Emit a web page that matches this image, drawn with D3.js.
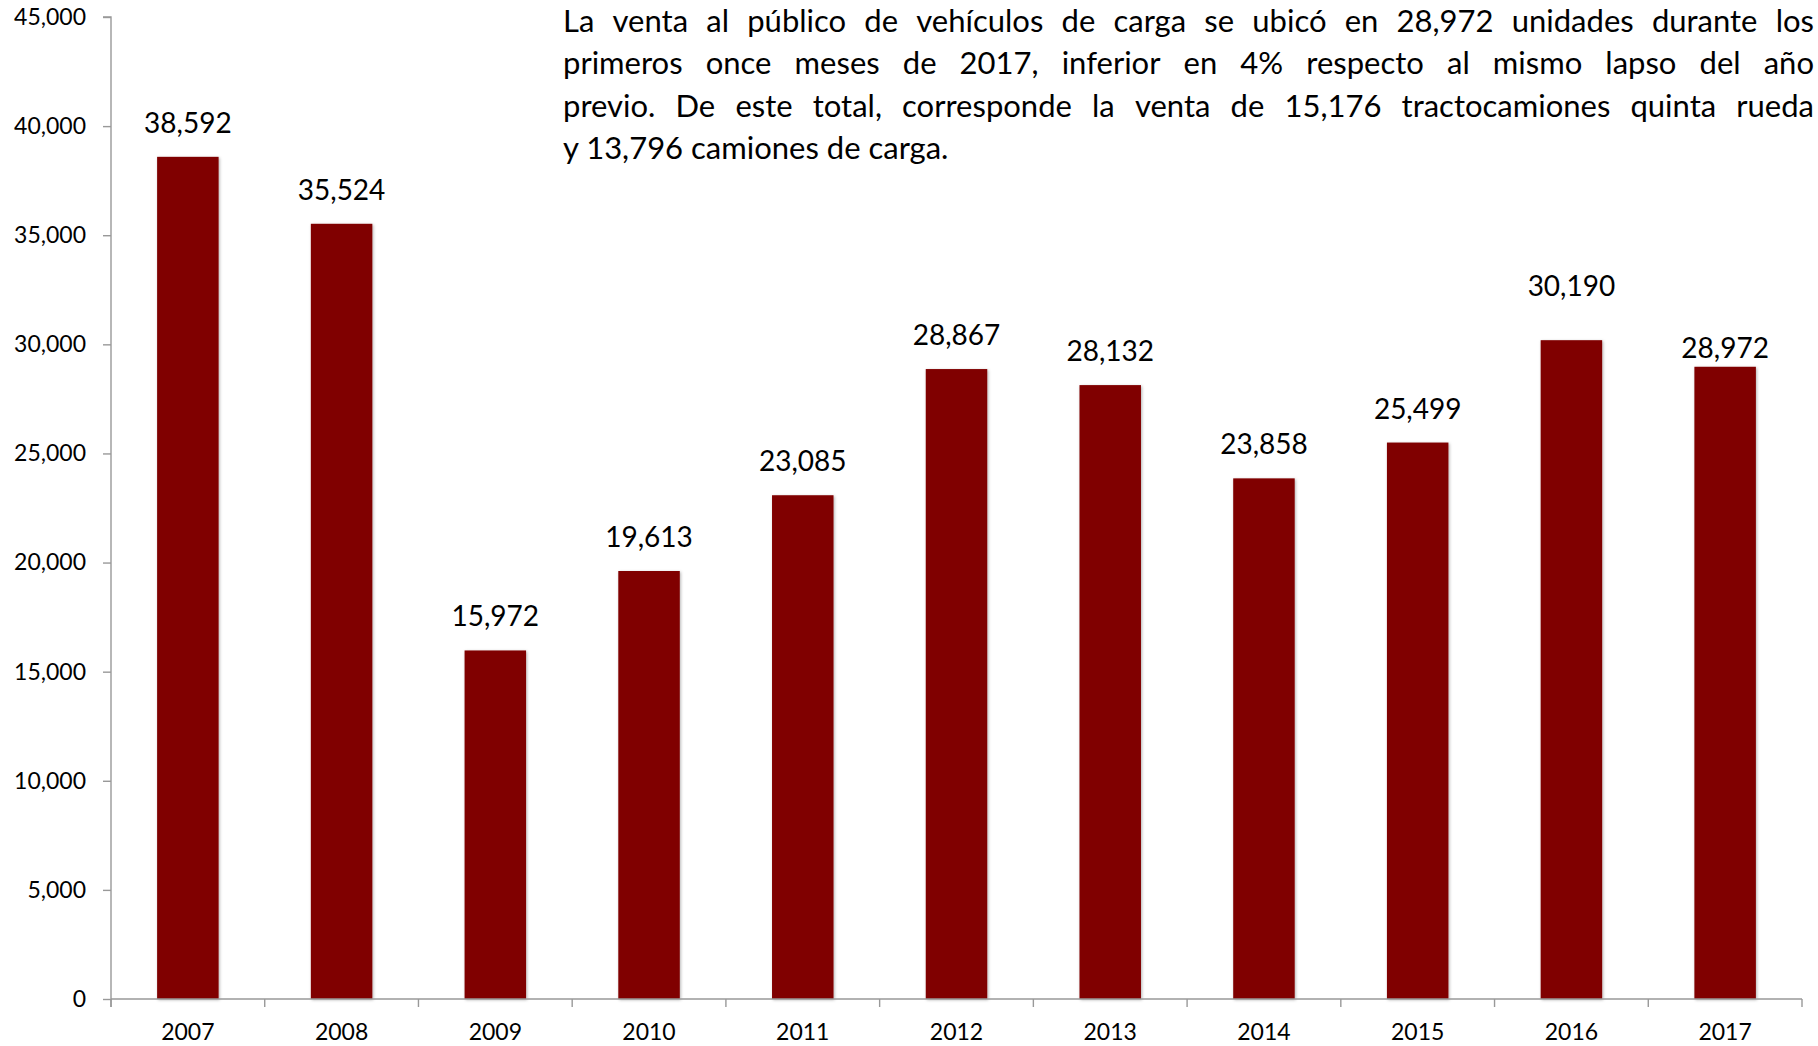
<!DOCTYPE html>
<html>
<head>
<meta charset="utf-8">
<script src="https://cdnjs.cloudflare.com/ajax/libs/d3/7.8.5/d3.min.js"></script>
<style>
  html, body { margin: 0; padding: 0; background: #fff; }
  svg { display: block; font-family: Lato, "Open Sans", sans-serif; }
</style>
</head>
<body>
<div id="chart"></div>
<script>
const WIDTH = 1818;
const HEIGHT = 1046;

const years = ['2007', '2008', '2009', '2010', '2011', '2012', '2013', '2014', '2015', '2016', '2017'];
const sales = [38592, 35524, 15972, 19613, 23085, 28867, 28132, 23858, 25499, 30190, 28972];
const yTicks = [0, 5000, 10000, 15000, 20000, 25000, 30000, 35000, 40000, 45000];
const noteLines = [
  'La venta al público de vehículos de carga se ubicó en 28,972  unidades durante los',
  'primeros once meses de 2017, inferior en 4% respecto al mismo lapso del año',
  'previo. De este total, corresponde la venta de 15,176 tractocamiones quinta rueda',
  'y 13,796 camiones de carga.'
];

// label gap above bar top; two labels were moved by hand in the original
const LABEL_GAP = 24;
const labelGapFor = { '2016': 44, '2017': 9 };

const LEFT = 111, RIGHT = 1802, TOP = 17, BOTTOM = 999;
const AXIS_COLOR = '#999';
const BAR_COLOR = '#800000';

const svg = d3.select('#chart').append('svg')
  .attr('width', WIDTH).attr('height', HEIGHT);

const defs = svg.append('defs');
defs.append('filter').attr('id', 'shadow')
  .attr('x', '-20%').attr('y', '-5%').attr('width', '140%').attr('height', '110%')
  .append('feDropShadow')
  .attr('dx', 1).attr('dy', 1).attr('stdDeviation', 1.5)
  .attr('flood-color', '#000').attr('flood-opacity', 0.3);

const x = d3.scaleBand().domain(years).range([LEFT, RIGHT])
  .paddingInner(0.6).paddingOuter(0.3);
const y = d3.scaleLinear().domain([0, 45000]).range([BOTTOM, TOP]);

// y axis
const yAxis = d3.axisLeft(y).tickValues(yTicks).tickSize(8).tickPadding(17)
  .tickFormat(d3.format(','));
const yg = svg.append('g').attr('transform', `translate(${LEFT},0)`).call(yAxis);
yg.select('.domain').attr('stroke', AXIS_COLOR).attr('stroke-width', 1.4)
  .attr('d', `M-8,${TOP}H0V${BOTTOM + 8}`);
yg.selectAll('.tick line').attr('stroke', AXIS_COLOR).attr('stroke-width', 1.4);
yg.selectAll('.tick text').attr('font-size', 23).attr('fill', '#000')
  .attr('font-family', 'Lato, sans-serif');

// bars
svg.append('g').selectAll('rect').data(years).join('rect')
  .attr('x', d => x(d))
  .attr('y', (d, i) => y(sales[i]))
  .attr('width', x.bandwidth())
  .attr('height', (d, i) => y(0) - y(sales[i]))
  .attr('fill', BAR_COLOR)
  .attr('filter', 'url(#shadow)');

// x axis with ticks between categories
const xg = svg.append('g');
xg.append('line').attr('x1', LEFT).attr('x2', RIGHT).attr('y1', BOTTOM).attr('y2', BOTTOM)
  .attr('stroke', AXIS_COLOR).attr('stroke-width', 1.4);
const bounds = d3.range(years.length + 1).map(i => LEFT + i * x.step());
xg.selectAll('.xtick').data(bounds).join('line').attr('class', 'xtick')
  .attr('x1', d => d).attr('x2', d => d)
  .attr('y1', BOTTOM).attr('y2', BOTTOM + 8)
  .attr('stroke', AXIS_COLOR).attr('stroke-width', 1.4);
xg.selectAll('.xlabel').data(years).join('text').attr('class', 'xlabel')
  .attr('x', d => x(d) + x.bandwidth() / 2)
  .attr('y', 1040)
  .attr('text-anchor', 'middle')
  .attr('font-size', 23)
  .text(d => d);

// value labels
svg.append('g').selectAll('text').data(years).join('text')
  .attr('x', d => x(d) + x.bandwidth() / 2)
  .attr('y', (d, i) => y(sales[i]) - (labelGapFor[d] !== undefined ? labelGapFor[d] : LABEL_GAP))
  .attr('text-anchor', 'middle')
  .attr('font-size', 28)
  .text((d, i) => d3.format(',')(sales[i]));

// justified note text
const NOTE_X0 = 563, NOTE_X1 = 1814, NOTE_Y0 = 32, NOTE_STEP = 42.3, NOTE_SIZE = 31;
const note = svg.append('g').attr('font-size', NOTE_SIZE).attr('fill', '#000');
noteLines.forEach((line, li) => {
  const yy = NOTE_Y0 + li * NOTE_STEP;
  const last = li === noteLines.length - 1;
  if (last) {
    note.append('text').attr('x', NOTE_X0).attr('y', yy)
      .style('white-space', 'pre').text(line);
    return;
  }
  const words = line.split(/ +/);
  const spans = words.map(w => note.append('text').attr('y', yy).text(w));
  const widths = spans.map(s => s.node().getComputedTextLength());
  const total = d3.sum(widths);
  const gap = (NOTE_X1 - NOTE_X0 - total) / (words.length - 1);
  let cx = NOTE_X0;
  spans.forEach((s, i) => {
    s.attr('x', cx);
    cx += widths[i] + gap;
  });
});
</script>
</body>
</html>
